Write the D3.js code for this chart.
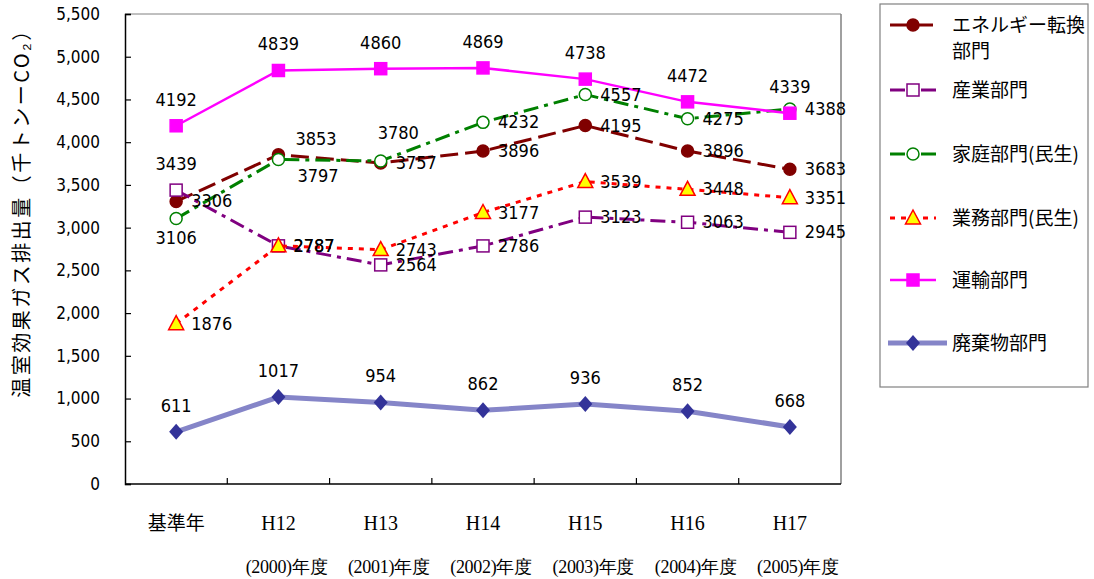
<!DOCTYPE html>
<html lang="ja">
<head>
<meta charset="utf-8">
<title>温室効果ガス排出量</title>
<script src="https://cdn.jsdelivr.net/npm/d3@7"></script>
<style>
  body { margin: 0; background: #fff; }
  svg text { fill: #000; }
  .num { font-family: "Liberation Sans Narrow", "DejaVu Sans Condensed", "Liberation Sans", sans-serif; font-size: 18px; }
  .jp { font-family: "Noto Sans CJK JP", sans-serif; }
  .serif { font-family: "Liberation Serif", "DejaVu Serif", serif; }
</style>
</head>
<body>
<div id="chart"></div>
<script>
// categories and tick labels
var categories = ["基準年", "H12", "H13", "H14", "H15", "H16", "H17"];
var fiscalYears = ["", "(2000)年度", "(2001)年度", "(2002)年度", "(2003)年度", "(2004)年度", "(2005)年度"];
var yTicks = [0, 500, 1000, 1500, 2000, 2500, 3000, 3500, 4000, 4500, 5000, 5500];

// series values (thousand t-CO2)
var energy    = [3306, 3853, 3757, 3896, 4195, 3896, 3683];
var industry  = [3439, 2787, 2564, 2786, 3123, 3063, 2945];
var household = [3106, 3797, 3780, 4232, 4557, 4275, 4388];
var business  = [1876, 2787, 2743, 3177, 3539, 3448, 3351];
var transport = [4192, 4839, 4860, 4869, 4738, 4472, 4339];
var waste     = [611, 1017, 954, 862, 936, 852, 668];

// where each data label sits (t = above, b = below, r = right, tr / br / tt = nudged)
var energyLab    = ["r", "tr", "r", "r", "r", "r", "r"];
var industryLab  = ["t", "r", "r", "r", "r", "r", "r"];
var householdLab = ["b", "br", "tt", "r", "r", "r", "r"];
var businessLab  = ["r", "r", "r", "r", "r", "r", "r"];
var transportLab = ["t", "t", "t", "t", "t", "t", "t"];
var wasteLab     = ["t", "t", "t", "t", "t", "t", "t"];

var series = [
  {name: ["エネルギー転換", "部門"], values: energy, labels: energyLab, color: "#800000", width: 3, dash: "18,7", marker: "circle", fill: "#800000"},
  {name: ["産業部門"], values: industry, labels: industryLab, color: "#800080", width: 3, dash: "15,6,4,6", marker: "square", fill: "#fff"},
  {name: ["家庭部門(民生)"], values: household, labels: householdLab, color: "#008000", width: 3, dash: "15,6,4,6", marker: "circle", fill: "#fff"},
  {name: ["業務部門(民生)"], values: business, labels: businessLab, color: "#ff0000", width: 3, dash: "5,6", marker: "triangle", fill: "#ffff00"},
  {name: ["運輸部門"], values: transport, labels: transportLab, color: "#ff00ff", width: 2.5, dash: null, marker: "square", fill: "#ff00ff"},
  {name: ["廃棄物部門"], values: waste, labels: wasteLab, color: "#8585c8", width: 5, dash: null, marker: "diamond", fill: "#333399"}
];

var W = 1094, H = 579;
var plotL = 125, plotR = 841, plotT = 14, plotB = 484;

var svg = d3.select("#chart").append("svg")
    .attr("width", W)
    .attr("height", H);

var x = d3.scaleBand().domain(categories).range([plotL, plotR]);
var y = d3.scaleLinear().domain([0, 5500]).range([plotB, plotT]);
var cx = function(i) { return x(categories[i]) + x.bandwidth() / 2; };

// plot frame (top and right in grey)
svg.append("line").attr("x1", plotL).attr("x2", plotR).attr("y1", plotT).attr("y2", plotT)
    .style("stroke", "#808080").style("stroke-width", 1);
svg.append("line").attr("x1", plotR).attr("x2", plotR).attr("y1", plotT).attr("y2", plotB)
    .style("stroke", "#808080").style("stroke-width", 1.5);

// y axis
var yAxis = svg.append("g")
    .attr("transform", "translate(" + plotL + ",0)")
    .call(d3.axisLeft(y).tickValues(yTicks).tickFormat(d3.format(",")).tickSize(-6).tickPadding(25));
yAxis.select(".domain").style("stroke", "#000").style("stroke-width", 1.5);
yAxis.selectAll(".tick line").style("stroke", "#000").style("stroke-width", 1.2);
yAxis.selectAll("text").attr("class", "num").style("font-size", "17px");

// x axis line + ticks between categories
svg.append("line").attr("x1", plotL).attr("x2", plotR).attr("y1", plotB).attr("y2", plotB)
    .style("stroke", "#000").style("stroke-width", 1.5);
svg.selectAll(".xtick").data(categories.slice(1)).enter().append("line")
    .attr("class", "xtick")
    .attr("x1", function(d) { return x(d); })
    .attr("x2", function(d) { return x(d); })
    .attr("y1", plotB).attr("y2", plotB - 6)
    .style("stroke", "#000").style("stroke-width", 1.2);

// category labels
svg.selectAll(".cat").data(categories).enter().append("text")
    .attr("class", function(d, i) { return i == 0 ? "cat jp" : "cat serif"; })
    .attr("x", function(d, i) { return cx(i); })
    .attr("y", 530)
    .attr("text-anchor", "middle")
    .style("font-size", function(d, i) { return i == 0 ? "19px" : "20px"; })
    .text(function(d) { return d; });

svg.selectAll(".fy").data(fiscalYears).enter().append("text")
    .attr("class", "fy serif")
    .attr("x", function(d, i) { return cx(i) + 8; })
    .attr("y", 573)
    .attr("text-anchor", "middle")
    .style("font-size", "18px")
    .style("letter-spacing", "-0.3px")
    .text(function(d) { return d; });

// y title
svg.append("text")
    .attr("class", "jp")
    .attr("transform", "translate(29,208) rotate(-90)")
    .attr("text-anchor", "middle")
    .style("font-size", "20px")
    .style("letter-spacing", "2.5px")
    .text("温室効果ガス排出量（千トンーCO₂）");

function drawMarker(g, type, px, py, fill, color) {
  if (type == "circle") {
    g.append("circle").attr("cx", px).attr("cy", py).attr("r", 6)
      .style("fill", fill).style("stroke", color).style("stroke-width", 1.5);
  } else if (type == "square") {
    g.append("rect").attr("x", px - 6).attr("y", py - 6).attr("width", 12).attr("height", 12)
      .style("fill", fill).style("stroke", color).style("stroke-width", 1.5);
  } else if (type == "triangle") {
    g.append("path").attr("d", "M" + px + "," + (py - 8) + "L" + (px + 7.5) + "," + (py + 6) + "L" + (px - 7.5) + "," + (py + 6) + "Z")
      .style("fill", fill).style("stroke", color).style("stroke-width", 1.5);
  } else if (type == "diamond") {
    g.append("path").attr("d", "M" + px + "," + (py - 8) + "L" + (px + 7) + "," + py + "L" + px + "," + (py + 8) + "L" + (px - 7) + "," + py + "Z")
      .style("fill", fill);
  }
}

var line = d3.line()
    .x(function(d, i) { return cx(i); })
    .y(function(d) { return y(d); });

// series
series.forEach(function(s) {
  var g = svg.append("g");
  g.append("path")
    .datum(s.values)
    .attr("d", line)
    .style("fill", "none")
    .style("stroke", s.color)
    .style("stroke-width", s.width)
    .style("stroke-dasharray", s.dash);
  s.values.forEach(function(v, i) {
    drawMarker(g, s.marker, cx(i), y(v), s.fill, s.color);
  });
});

// data labels on top
series.forEach(function(s) {
  s.values.forEach(function(v, i) {
    var px = cx(i), py = y(v), pos = s.labels[i];
    var t = svg.append("text").attr("class", "num").text(v);
    if (pos == "t") {
      t.attr("x", px).attr("y", py - 20).attr("text-anchor", "middle");
    } else if (pos == "b") {
      t.attr("x", px).attr("y", py + 25).attr("text-anchor", "middle");
    } else if (pos == "tr") {
      t.attr("x", px + 17).attr("y", py - 10);
    } else if (pos == "br") {
      t.attr("x", px + 19).attr("y", py + 22);
    } else if (pos == "tt") {
      t.attr("x", px - 3).attr("y", py - 22);
    } else {
      t.attr("x", px + 15).attr("y", py + 6);
    }
  });
});

// legend
var lg = svg.append("g");
lg.append("rect").attr("x", 880).attr("y", 4).attr("width", 208).attr("height", 383)
  .style("fill", "#fff").style("stroke", "#808080").style("stroke-width", 1.2);
var legendY = [25, 90, 154, 218, 280, 343];
series.forEach(function(s, i) {
  var ly = legendY[i];
  var x1 = s.width > 4 ? 888 : 890, x2 = s.width > 4 ? 947 : 936;
  lg.append("line").attr("x1", x1).attr("x2", x2).attr("y1", ly).attr("y2", ly)
    .style("stroke", s.color).style("stroke-width", s.width)
    .style("stroke-dasharray", s.dash);
  drawMarker(lg, s.marker, 913, ly, s.fill, s.color);
  s.name.forEach(function(n, k) {
    lg.append("text").attr("class", "jp")
      .attr("x", 952).attr("y", ly + 7 + k * 26)
      .style("font-size", "19px")
      .text(n);
  });
});
</script>
</body>
</html>
